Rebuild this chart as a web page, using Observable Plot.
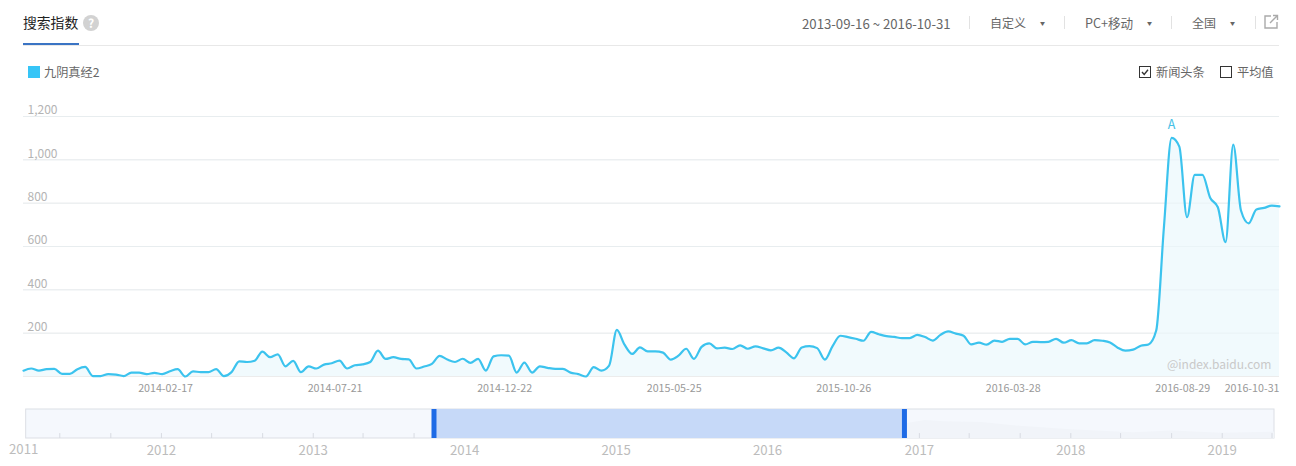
<!DOCTYPE html>
<html lang="zh">
<head>
<meta charset="utf-8">
<script src="https://cdn.jsdelivr.net/npm/d3@7"></script>
<script src="https://cdn.jsdelivr.net/npm/@observablehq/plot@0.6"></script>
<style>
  html, body { margin: 0; padding: 0; background: #fff; }
  body { width: 1296px; height: 466px; position: relative; overflow: hidden;
         font-family: "Noto Sans CJK SC", "Noto Sans", sans-serif; }
  .t { position: absolute; white-space: nowrap; line-height: 1; color: #666; font-size: 12px; }
  .bar { position: absolute; }
  #main, #overview { position: absolute; left: 0; }
  #main { top: 100px; }
  #overview { top: 400px; }
  svg { display: block; background: transparent; }
</style>
</head>
<body>
<div class="t" style="left:23px;top:16px;font-size:13.8px;color:#222">搜索指数</div>
<div class="bar" style="left:83px;top:15px;width:16px;height:16px;border-radius:50%;background:#d2d2d2;color:#fff;font-size:12px;font-weight:700;line-height:16px;text-align:center">?</div>
<div class="bar" style="left:23px;top:45px;width:1256px;height:1px;background:#e8e8e8"></div>
<div class="bar" style="left:23px;top:43px;width:56px;height:2px;background:#3a74c4"></div>

<div class="t" style="left:802px;top:17px;font-size:13.2px">2013-09-16 ~ 2016-10-31</div>
<div class="bar" style="left:969px;top:16px;width:1px;height:13px;background:#e2e2e2"></div>
<div class="t" style="left:990px;top:17px">自定义</div>
<div class="t" style="left:1040px;top:20px;font-size:5px">▼</div>
<div class="bar" style="left:1064px;top:16px;width:1px;height:13px;background:#e2e2e2"></div>
<div class="t" style="left:1085px;top:17px;font-size:12.6px">PC+移动</div>
<div class="t" style="left:1147px;top:20px;font-size:5px">▼</div>
<div class="bar" style="left:1171px;top:16px;width:1px;height:13px;background:#e2e2e2"></div>
<div class="t" style="left:1192px;top:17px">全国</div>
<div class="t" style="left:1230px;top:20px;font-size:5px">▼</div>
<div class="bar" style="left:1255px;top:16px;width:1px;height:13px;background:#e2e2e2"></div>
<svg class="bar" style="left:1263px;top:14px" width="16" height="16" viewBox="0 0 16 16" fill="none" stroke="#aaa" stroke-width="1.4">
  <path d="M8 2H2v12h12V8"/><path d="M7 9 14 2M10 1.5h4.5V6"/>
</svg>

<div class="bar" style="left:28px;top:66px;width:12px;height:12px;background:#36c5f7"></div>
<div class="t" style="left:44px;top:66px;font-size:12.2px">九阴真经2</div>
<svg class="bar" style="left:1139px;top:66px" width="12" height="12" viewBox="0 0 12 12" fill="none">
  <rect x=".5" y=".5" width="11" height="11" stroke="#333"/><path d="M3 6l2.2 2.4L9 3.8" stroke="#333" stroke-width="1.4"/>
</svg>
<div class="t" style="left:1156px;top:66px;font-size:12.2px">新闻头条</div>
<svg class="bar" style="left:1220px;top:66px" width="12" height="12" viewBox="0 0 12 12" fill="none">
  <rect x=".5" y=".5" width="11" height="11" stroke="#333"/>
</svg>
<div class="t" style="left:1237px;top:66px;font-size:12.2px">平均值</div>

<div id="main"></div>
<div id="overview"></div>

<script>
// Weekly search index, one value per week from the first week below
const firstWeek = "2013-09-16";
const lastWeek = "2016-10-31";
const searchIndex = [
  27,37,27,34,35,12,12,34,44,2,2,11,9,2,18,18,11,17,11,24,34,0,24,20,20,34,2,20,70,67,73,115,89,102,47,72,
  20,47,37,55,61,73,37,52,56,67,119,81,89,81,79,37,46,58,95,78,67,82,63,81,27,93,98,96,18,64,18,47,40,35,35,18,11,0,43,27,
  50,215,147,104,134,116,116,110,78,96,128,81,137,153,130,133,127,144,128,139,130,121,133,111,84,134,140,131,78,140,188,182,174,165,206,195,186,183,
  177,177,192,182,166,192,208,198,188,148,156,147,166,160,174,174,148,160,159,160,174,156,168,153,153,168,165,157,133,119,124,142,148,
  212,689,1101,1061,735,931,931,825,781,620,1070,766,707,771,778,789,785
];
const yTicks = [200, 400, 600, 800, 1000, 1200];
const dateTicks = ["2014-02-17","2014-07-21","2014-12-22","2015-05-25","2015-10-26","2016-03-28","2016-08-29","2016-10-31"];
const flagDate = "2016-07-25";
const flagValue = 1101;
const flagLabel = ["A"];

// Overview slider
const overviewStart = "2011-01-01";
const overviewTrackStart = "2011-02-09";
const overviewEnd = "2019-05-07";
const yearLabels = ["2012","2013","2014","2015","2016","2017","2018","2019"];
const firstYearLabel = ["2011"];
const brushStart = "2013-10-19";
const brushEnd = "2016-11-26";
const overviewDates = ["2016-11-26","2017-01-15","2017-03-01","2017-06-01","2017-09-01","2018-01-01","2018-06-01","2018-09-01","2019-01-01","2019-05-07"];
const overviewValues = [50,62,58,55,42,30,20,26,18,22];

const date = s => new Date(s + "T00:00:00Z");
const WEEK = 7 * 864e5;
const series = searchIndex.map((value, i) => ({ date: new Date(+date(firstWeek) + i * WEEK), value }));

const main = Plot.plot({
  width: 1296, height: 300,
  marginTop: 16, marginBottom: 24, marginLeft: 23, marginRight: 17,
  style: { background: "transparent", fontFamily: '"Noto Sans CJK SC","Noto Sans",sans-serif' },
  x: { type: "utc", domain: [date(firstWeek), date(lastWeek)] },
  y: { domain: [0, 1200] },
  marks: [
    Plot.ruleY([0, ...yTicks], { stroke: "#ececec", strokeWidth: 1 }),
    Plot.areaY(series, { x: "date", y: "value", fill: "#f1fafd", curve: "monotone-x" }),
    Plot.ruleY(yTicks, { stroke: "#e4eef2", strokeWidth: 1, strokeOpacity: 0.5 }),
    Plot.lineY(series, { x: "date", y: "value", stroke: "#3cc3ee", strokeWidth: 2.2, curve: "monotone-x" }),
    Plot.text(flagLabel, { x: () => date(flagDate), y: () => flagValue, dy: -13, fill: "#45c0e6", fontSize: 12.5 }),
    Plot.text(["@index.baidu.com"], { frameAnchor: "bottom-right", dx: -8, dy: -8, fill: "#c9c9c9", fontSize: 12, lineAnchor: "bottom", dy: -8 }),
    Plot.axisY(yTicks, {
      anchor: "left", tickSize: 0, tickPadding: 0, textAnchor: "start", dx: 4, dy: -6,
      color: "#b4b4b4", fontSize: 12, label: null, tickFormat: d3.format(",")
    }),
    Plot.axisX(dateTicks.map(date), {
      anchor: "bottom", tickSize: 0, tickPadding: 8, textAnchor: "end",
      color: "#999", fontSize: 10.7, label: null, tickFormat: d3.utcFormat("%Y-%m-%d")
    })
  ]
});
document.getElementById("main").append(main);

const minorTicks = d3.utcMonth.range(date("2011-05-01"), date("2019-06-01"), 4);
const over = Plot.plot({
  width: 1296, height: 66,
  marginTop: 9, marginBottom: 28, marginLeft: 9.5, marginRight: 22,
  style: { background: "transparent", fontFamily: '"Noto Sans CJK SC","Noto Sans",sans-serif' },
  x: { type: "utc", domain: [date(overviewStart), date(overviewEnd)] },
  y: { domain: [0, 100], axis: null },
  marks: [
    Plot.rect([0], { x1: () => date(overviewTrackStart), x2: () => date(overviewEnd), y1: () => 0, y2: () => 100,
      fill: "#f5f8fd", stroke: "#dcdfe5", strokeWidth: 1 }),
    Plot.areaY(overviewDates.map((d, i) => ({ d: date(d), v: overviewValues[i] })), { x: "d", y: "v", fill: "#f1f4f9" }),
    Plot.ruleX(minorTicks, { y1: () => 0, y2: () => 17, stroke: "#d8dbe2", strokeWidth: 1 }),
    Plot.rect([0], { x1: () => date(brushStart), x2: () => date(brushEnd), y1: () => 0, y2: () => 100, fill: "#c6d9f8" }),
    Plot.ruleX([brushStart, brushEnd].map(date), { y1: () => 0, y2: () => 100, stroke: "#1e6be6", strokeWidth: 5 }),
    Plot.axisX(yearLabels.map(s => date(s + "-01-01")), {
      anchor: "bottom", tickSize: 0, tickPadding: 7, color: "#bcbcbc", fontSize: 13.2, label: null,
      tickFormat: d3.utcFormat("%Y")
    }),
    Plot.axisX(firstYearLabel.map(s => date(s + "-01-01")), {
      anchor: "bottom", tickSize: 0, tickPadding: 6, textAnchor: "start", dx: -1, color: "#bcbcbc", fontSize: 13.2, label: null,
      tickFormat: d3.utcFormat("%Y")
    })
  ]
});
document.getElementById("overview").append(over);
</script>
</body>
</html>
